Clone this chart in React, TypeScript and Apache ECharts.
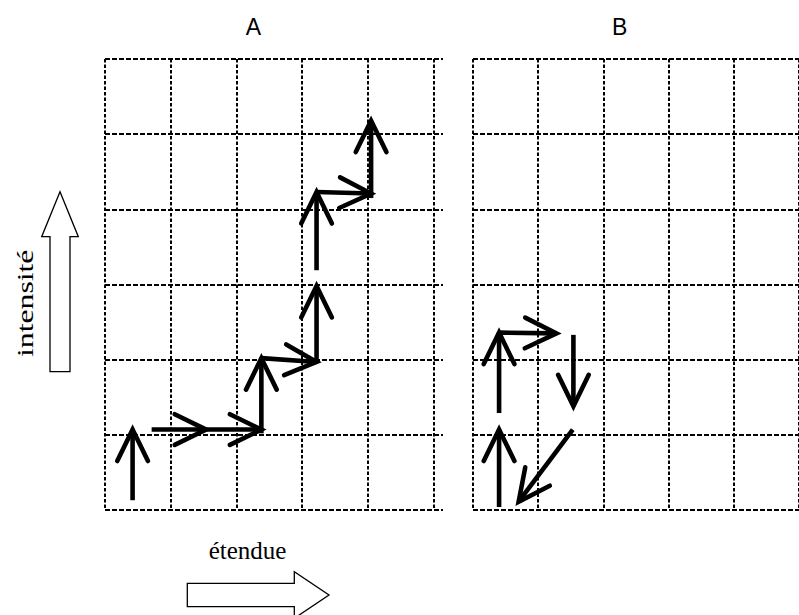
import React, { useEffect, useRef } from 'react';
import * as echarts from 'echarts';

// Panel titles and axis names
const panelTitles = ['A', 'B'];
const yAxisName = 'intensité';
const xAxisName = 'étendue';

// Grid extents (cells): 5 columns x 6 rows
const xCells = 5;
const yCells = 6;

// Arrows in panel A: [x0, y0, x1(tip), y1(tip)] in cell units
const arrowsA: number[][] = [
  [0.42, 0.13, 0.42, 1.07],
  [0.71, 1.07, 1.54, 1.07],
  [1.54, 1.07, 2.38, 1.07],
  [2.38, 1.02, 2.38, 2.02],
  [2.38, 2.02, 3.22, 1.97],
  [3.22, 1.97, 3.22, 2.98],
  [3.22, 3.19, 3.22, 4.23],
  [3.22, 4.23, 4.05, 4.21],
  [4.05, 4.15, 4.05, 5.18],
];

// Arrows in panel B
const arrowsB: number[][] = [
  [0.4, 0.04, 0.4, 1.07],
  [0.4, 1.29, 0.4, 2.36],
  [0.4, 2.36, 1.28, 2.35],
  [1.54, 2.33, 1.54, 1.38],
  [1.53, 1.07, 0.7, 0.11],
];

const renderArrow = (params: any, api: any) => {
  const p0 = api.coord([api.value(0), api.value(1)]);
  const p1 = api.coord([api.value(2), api.value(3)]);
  const dx = p1[0] - p0[0];
  const dy = p1[1] - p0[1];
  const len = Math.hypot(dx, dy) || 1;
  const bx = -dx / len;
  const by = -dy / len;
  const L = 35;
  const a = (26 * Math.PI) / 180;
  const c = Math.cos(a);
  const s = Math.sin(a);
  const w1 = [p1[0] + L * (bx * c - by * s), p1[1] + L * (bx * s + by * c)];
  const w2 = [p1[0] + L * (bx * c + by * s), p1[1] + L * (-bx * s + by * c)];
  return {
    type: 'group',
    children: [
      {
        type: 'polyline',
        shape: { points: [p0, p1] },
        style: { stroke: '#000', lineWidth: 4.6, fill: null, lineCap: 'butt' },
      },
      {
        type: 'polyline',
        shape: { points: [w1, p1, w2] },
        style: { stroke: '#000', lineWidth: 4.6, fill: null, lineCap: 'round', lineJoin: 'miter' },
      },
    ],
  };
};

const hDash = { color: '#000', width: 2, type: [5, 2] as any };
const vDash = { color: '#000', width: 2, type: [3.5, 2] as any };

const hiddenParts = {
  axisLine: { show: false },
  axisTick: { show: false },
  axisLabel: { show: false },
};

export default function App() {
  const ref = useRef<HTMLDivElement>(null);
  useEffect(() => {
    if (!ref.current) return;
    const chart = echarts.init(ref.current, null, { renderer: 'svg' });
    chart.setOption({
      animation: false,
      backgroundColor: '#fff',
      grid: [
        { left: 105, top: 59, width: 328.5, height: 451 },
        { left: 105, top: 59, width: 338, height: 451 },
        { left: 473, top: 59, width: 327.5, height: 451 },
      ],
      xAxis: [
        { gridIndex: 0, type: 'value', min: 0, max: xCells, interval: 1, ...hiddenParts, splitLine: { show: true, lineStyle: vDash } },
        { gridIndex: 1, type: 'value', min: 0, max: 1, show: false },
        { gridIndex: 2, type: 'value', min: 0, max: xCells, interval: 1, ...hiddenParts, splitLine: { show: true, lineStyle: vDash } },
      ],
      yAxis: [
        { gridIndex: 0, type: 'value', min: 0, max: yCells, interval: 1, show: false },
        { gridIndex: 1, type: 'value', min: 0, max: yCells, interval: 1, ...hiddenParts, splitLine: { show: true, lineStyle: hDash } },
        { gridIndex: 2, type: 'value', min: 0, max: yCells, interval: 1, ...hiddenParts, splitLine: { show: true, lineStyle: hDash } },
      ],
      series: [
        {
          type: 'custom',
          xAxisIndex: 0,
          yAxisIndex: 0,
          renderItem: renderArrow,
          clip: false,
          encode: { x: [0, 2], y: [1, 3] },
          data: arrowsA,
          silent: true,
        },
        {
          type: 'custom',
          xAxisIndex: 2,
          yAxisIndex: 2,
          renderItem: renderArrow,
          clip: false,
          encode: { x: [0, 2], y: [1, 3] },
          data: arrowsB,
          silent: true,
        },
      ],
      graphic: [
        {
          type: 'text',
          x: 253.3,
          y: 26.5,
          style: { text: panelTitles[0], font: '23px "Liberation Sans", Arial, sans-serif', fill: '#000', textAlign: 'center', textVerticalAlign: 'middle' },
        },
        {
          type: 'text',
          x: 619.7,
          y: 26.5,
          style: { text: panelTitles[1], font: '23px "Liberation Sans", Arial, sans-serif', fill: '#000', textAlign: 'center', textVerticalAlign: 'middle' },
        },
        {
          type: 'text',
          x: 25.5,
          y: 303.3,
          rotation: Math.PI / 2,
          scaleX: 1.38,
          style: { text: yAxisName, font: '23px "Liberation Serif", "Times New Roman", serif', fill: '#000', textAlign: 'center', textVerticalAlign: 'middle' },
        },
        {
          type: 'text',
          x: 247.5,
          y: 550.5,
          style: { text: xAxisName, font: '25px "Liberation Serif", "Times New Roman", serif', fill: '#000', textAlign: 'center', textVerticalAlign: 'middle' },
        },
        {
          type: 'polygon',
          shape: {
            points: [
              [50, 371.7], [50, 236.7], [41.7, 236.7], [60, 191.7], [78.3, 236.7], [70, 236.7], [70, 371.7],
            ],
          },
          style: { fill: '#fff', stroke: '#000', lineWidth: 1.3 },
        },
        {
          type: 'polygon',
          shape: {
            points: [
              [187.3, 583.3], [294.3, 583.3], [294.3, 571.7], [329, 595], [294.3, 618.3], [294.3, 606.7], [187.3, 606.7],
            ],
          },
          style: { fill: '#fff', stroke: '#000', lineWidth: 1.3 },
        },
      ],
    });
    return () => chart.dispose();
  }, []);
  return <div ref={ref} style={{ position: 'fixed', left: 0, top: 0, width: 799, height: 615 }} />;
}
